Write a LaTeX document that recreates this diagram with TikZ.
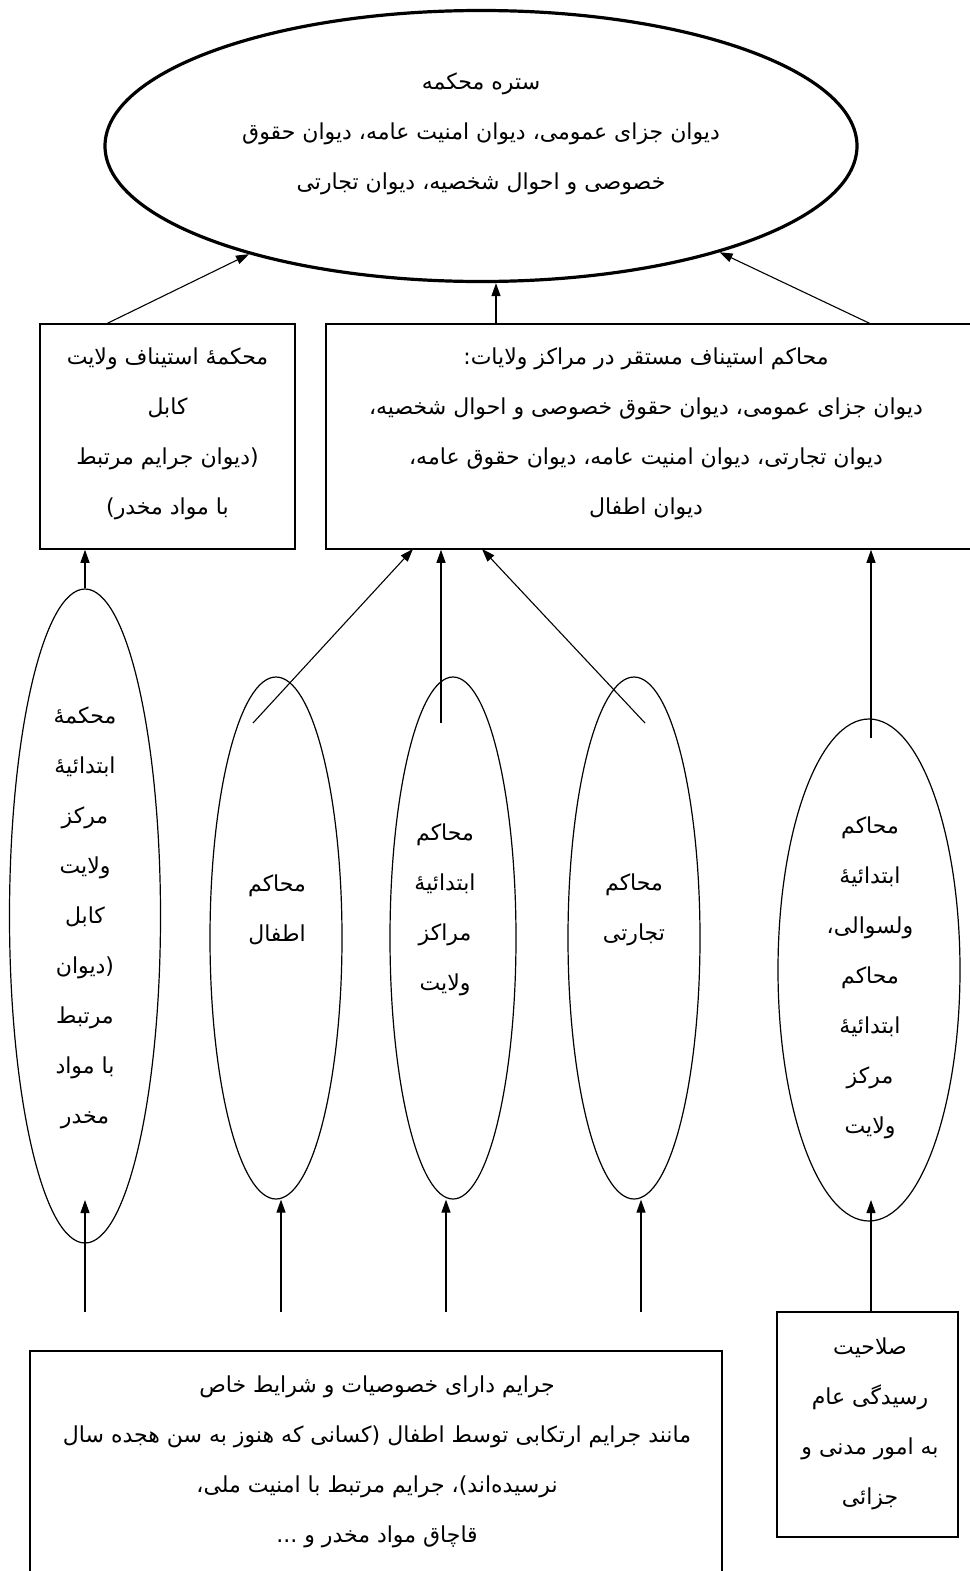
\documentclass[tikz,border=0pt]{standalone}
\usepackage{fontspec}
\usetikzlibrary{shapes.geometric,arrows.meta}
\TeXXeTstate=1
\newfontfamily\arabicfont[Script=Arabic]{DejaVu Sans}
\newcommand{\rtltext}[1]{\beginR #1\endR}
\tikzset{
  txt/.style={font=\arabicfont\fontsize{22}{50}\selectfont, align=center, inner sep=0pt},
  ell/.style={draw, ellipse, inner sep=0pt, line width=1.2pt},
  supell/.style={draw, ellipse, inner sep=0pt, line width=3.2pt},
  boxnode/.style={draw, rectangle, inner sep=0pt, line width=1.5pt},
  arr/.style={-{Triangle[length=13pt,width=9pt]}, line width=1.1pt}
}
\begin{document}
\begin{tikzpicture}[x=1pt,y=-1pt]
\useasboundingbox (0,0) rectangle (969,1571);
% top ellipse
\node[supell, minimum width=752pt, minimum height=271pt] (sup) at (481,146) {};
\node[txt] (suptxt) at (481,134) {\rtltext{ستره محکمه}\\ \rtltext{دیوان جزای عمومی، دیوان امنیت عامه، دیوان حقوق}\\ \rtltext{خصوصی و احوال شخصیه، دیوان تجارتی}};
% boxes
\node[boxnode, minimum width=255pt, minimum height=225pt] (lbox) at (167.5,436.5) {};
\node[txt] (ltxt) at (167.5,434) {\rtltext{محکمهٔ استیناف ولایت}\\ \rtltext{کابل}\\ \rtltext{(دیوان جرایم مرتبط}\\ \rtltext{با مواد مخدر)}};
\node[boxnode, minimum width=646pt, minimum height=225pt] (rbox) at (649,436.5) {};
\node[txt] (rtxt) at (646,434) {\rtltext{محاکم استیناف مستقر در مراکز ولایات:}\\ \rtltext{دیوان جزای عمومی، دیوان حقوق خصوصی و احوال شخصیه،}\\ \rtltext{دیوان تجارتی، دیوان امنیت عامه، دیوان حقوق عامه،}\\ \rtltext{دیوان اطفال}};
% ellipses
\node[ell, minimum width=151pt, minimum height=654pt] (e1) at (85,916) {};
\node[txt] (e1txt) at (85,918) {\rtltext{محکمهٔ}\\ \rtltext{ابتدائیهٔ}\\ \rtltext{مرکز}\\ \rtltext{ولایت}\\ \rtltext{کابل}\\ \rtltext{(دیوان}\\ \rtltext{مرتبط}\\ \rtltext{با مواد}\\ \rtltext{مخدر}};
\node[ell, minimum width=132pt, minimum height=522pt] (e2) at (276,938) {};
\node[txt] (e2txt) at (277,910) {\rtltext{محاکم}\\ \rtltext{اطفال}};
\node[ell, minimum width=126pt, minimum height=522pt] (e3) at (453,938) {};
\node[txt] (e3txt) at (445,910) {\rtltext{محاکم}\\ \rtltext{ابتدائیهٔ}\\ \rtltext{مراکز}\\ \rtltext{ولایت}};
\node[ell, minimum width=132pt, minimum height=522pt] (e4) at (634,938) {};
\node[txt] (e4txt) at (634,910) {\rtltext{محاکم}\\ \rtltext{تجارتی}};
\node[ell, minimum width=182pt, minimum height=502pt] (e5) at (869,970) {};
\node[txt] (e5txt) at (870,978) {\rtltext{محاکم}\\ \rtltext{ابتدائیهٔ}\\ \rtltext{ولسوالی،}\\ \rtltext{محاکم}\\ \rtltext{ابتدائیهٔ}\\ \rtltext{مرکز}\\ \rtltext{ولایت}};
% bottom boxes
\node[boxnode, minimum width=692pt, minimum height=228pt] (bbox) at (376,1465) {};
\node[txt] (btxt) at (377,1462) {\rtltext{جرایم دارای خصوصیات و شرایط خاص}\\ \rtltext{مانند جرایم ارتکابی توسط اطفال (کسانی که هنوز به سن هجده سال}\\ \rtltext{نرسیده‌اند)، جرایم مرتبط با امنیت ملی،}\\ \rtltext{قاچاق مواد مخدر و ...}};
\node[boxnode, minimum width=181pt, minimum height=225pt] (sbox) at (867.5,1424.5) {};
\node[txt] (stxt) at (870,1424) {\rtltext{صلاحیت}\\ \rtltext{رسیدگی عام}\\ \rtltext{به امور مدنی و}\\ \rtltext{جزائی}};
% coordinates for free ends
\coordinate (la) at (106,324);
\coordinate (ma) at (496,324);
\coordinate (ra) at (871,324);
\coordinate (c2) at (253,723);
\coordinate (c3) at (441,723);
\coordinate (c4) at (645,723);
\coordinate (c5) at (871,738);
\coordinate (d2) at (413,549);
\coordinate (d4) at (482,549);
\coordinate (b1) at (85,1312);
\coordinate (t1) at (85,1200);
\coordinate (b2) at (281,1312);
\coordinate (b3) at (446,1312);
\coordinate (b4) at (641,1312);
\coordinate (t5) at (871,1200);
% arrows to top ellipse
\draw[arr] (la) -- (sup.-155.3);
\draw[arr] (ma) -- (ma |- sup.south);
\draw[arr] (ra) -- (sup.-24);
% arrows to boxes
\draw[arr] (e1.north) -- (e1.north |- lbox.south);
\draw[arr] (c2) -- (d2);
\draw[arr] (c3) -- (c3 |- rbox.south);
\draw[arr] (c4) -- (d4);
\draw[arr] (c5) -- (c5 |- rbox.south);
% arrows from bottom
\draw[arr] (b1) -- (t1);
\draw[arr] (b2) -- (b2 |- e2.south);
\draw[arr] (b3) -- (b3 |- e3.south);
\draw[arr] (b4) -- (b4 |- e4.south);
\draw[arr] (sbox.north -| t5) -- (t5);
\end{tikzpicture}
\end{document}
